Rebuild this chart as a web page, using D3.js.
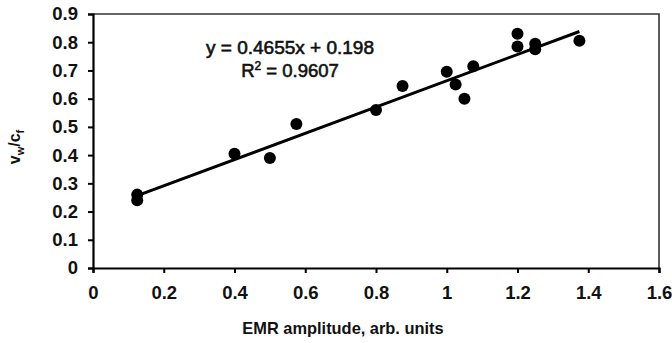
<!DOCTYPE html>
<html>
<head>
<meta charset="utf-8">
<script src="https://cdn.jsdelivr.net/npm/d3@7"></script>
<style>
  html, body { margin: 0; padding: 0; background: #fff; }
  svg { display: block; }
  text { font-family: "Liberation Sans", Arial, sans-serif; fill: #111; }
</style>
</head>
<body>
<svg id="chart" width="672" height="343"></svg>
<script>
// ---- data ----
const xValues = [0.125, 0.125, 0.40, 0.50, 0.575, 0.80, 0.875, 1.00, 1.025, 1.05, 1.075, 1.20, 1.20, 1.25, 1.25, 1.375];
const yValues = [0.26, 0.24, 0.405, 0.39, 0.51, 0.56, 0.645, 0.695, 0.65, 0.60, 0.715, 0.83, 0.785, 0.795, 0.775, 0.805];
const xTicks = [0, 0.2, 0.4, 0.6, 0.8, 1, 1.2, 1.4, 1.6];
const yTicks = [0, 0.1, 0.2, 0.3, 0.4, 0.5, 0.6, 0.7, 0.8, 0.9];
const slope = 0.4655;
const intercept = 0.198;
const rSquared = 0.9607;
const xTitle = "EMR amplitude, arb. units";

// ---- layout ----
const W = 672, H = 343;
const margin = { left: 93, right: 13, top: 14, bottom: 75 };
const svg = d3.select("#chart");

const x = d3.scaleLinear().domain([0, 1.6]).range([margin.left, W - margin.right]);
const y = d3.scaleLinear().domain([0, 0.9]).range([H - margin.bottom, margin.top]);

// frame (top & right)
svg.append("path")
  .attr("d", `M${x(0)},${y(0.9)} H${x(1.6)} V${y(0)}`)
  .attr("fill", "none").attr("stroke", "#333").attr("stroke-width", 1.6);

// axes
const xAxis = svg.append("g")
  .attr("transform", `translate(0,${y(0)})`)
  .call(d3.axisBottom(x).tickValues(xTicks).tickSize(5).tickPadding(13)
        .tickFormat(d => d3.format("")(d)));
const yAxis = svg.append("g")
  .attr("transform", `translate(${x(0)},0)`)
  .call(d3.axisLeft(y).tickValues(yTicks).tickSize(5).tickPadding(10)
        .tickFormat(d => d3.format("")(d)));

[xAxis, yAxis].forEach(g => {
  g.select(".domain").attr("stroke", "#000").attr("stroke-width", 2.2);
  g.selectAll(".tick line").attr("stroke", "#000").attr("stroke-width", 2);
  g.selectAll(".tick text")
    .attr("font-family", "'Liberation Sans', Arial, sans-serif")
    .attr("font-size", 18.5).attr("font-weight", "bold").attr("fill", "#111");
});

// trend line
const xMin = d3.min(xValues), xMax = d3.max(xValues);
svg.append("line")
  .attr("x1", x(xMin)).attr("y1", y(slope * xMin + intercept))
  .attr("x2", x(xMax)).attr("y2", y(slope * xMax + intercept))
  .attr("stroke", "#000").attr("stroke-width", 3);

// points
svg.append("g").selectAll("circle")
  .data(xValues.map((v, i) => [v, yValues[i]]))
  .join("circle")
  .attr("cx", d => x(d[0])).attr("cy", d => y(d[1]))
  .attr("r", 6).attr("fill", "#000");

// equation text
svg.append("text")
  .attr("x", 290).attr("y", 54)
  .attr("text-anchor", "middle").attr("font-size", 18.5)
  .attr("stroke", "#111").attr("stroke-width", 0.6)
  .attr("textLength", 168).attr("lengthAdjust", "spacingAndGlyphs")
  .text(`y = ${slope}x + ${intercept}`);
const r2 = svg.append("text")
  .attr("x", 290).attr("y", 76.5)
  .attr("text-anchor", "middle").attr("font-size", 18.5)
  .attr("stroke", "#111").attr("stroke-width", 0.6);
r2.append("tspan").text("R");
r2.append("tspan").attr("dy", -7).attr("font-size", 12).text("2");
r2.append("tspan").attr("dy", 7).text(` = ${rSquared}`);

// x title
svg.append("text")
  .attr("x", 343).attr("y", 334)
  .attr("text-anchor", "middle").attr("font-size", 16.4).attr("font-weight", "bold")
  .text(xTitle);

// y title: v_w / c_f
const yt = svg.append("text")
  .attr("transform", `translate(20,147) rotate(-90)`)
  .attr("text-anchor", "middle").attr("font-size", 16).attr("font-weight", "bold");
yt.append("tspan").text("v");
yt.append("tspan").attr("dy", 4).attr("font-size", 11).text("w");
yt.append("tspan").attr("dy", -4).text("/c");
yt.append("tspan").attr("dy", 4).attr("font-size", 11).text("f");
</script>
</body>
</html>
